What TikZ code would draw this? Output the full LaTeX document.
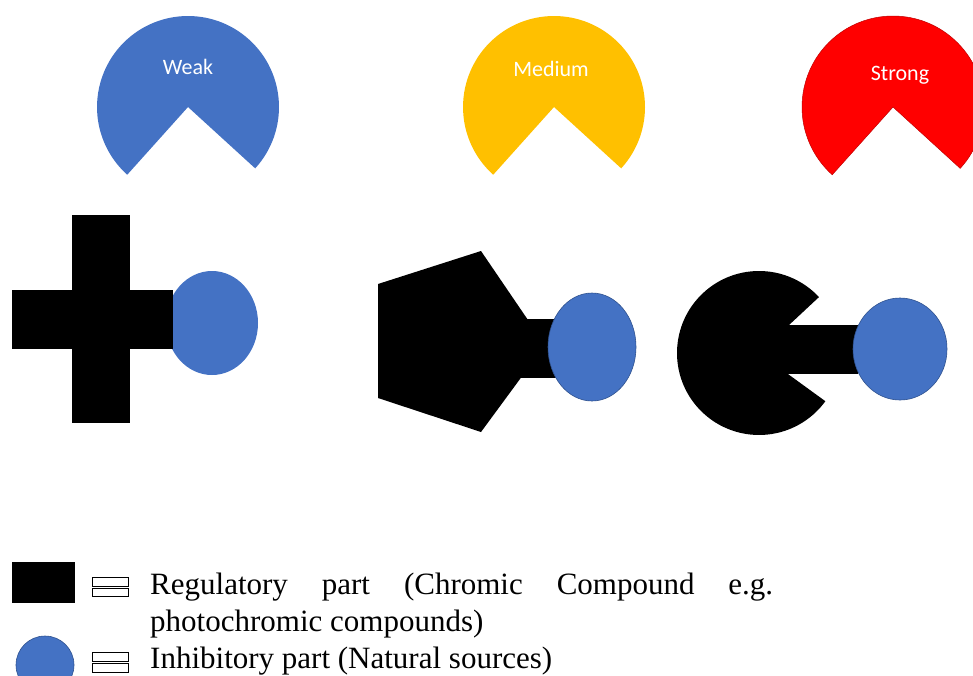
\documentclass[tikz,border=0pt]{standalone}
\usepackage{fontspec}
\setmainfont{Liberation Serif}
\newfontfamily\labelfont{Carlito}
\definecolor{pblue}{HTML}{4472C4}
\definecolor{pblueline}{HTML}{2F528F}
\definecolor{pyellow}{HTML}{FFC000}
\definecolor{pred}{HTML}{FF0000}
\definecolor{predline}{HTML}{C00000}
\begin{document}
\begin{tikzpicture}[x=1pt,y=-1pt,
  inhib/.style={fill=pblue,draw=pblueline,line width=0.6pt},
  regul/.style={fill=black},
  toplabel/.style={text=white,font=\labelfont\fontsize{22}{26}\selectfont,inner sep=0pt},
  legendtext/.style={font=\fontsize{31}{37}\selectfont,anchor=base west,inner sep=0pt},
  eqbar/.style={draw=black,fill=white,line width=0.8pt}]
\useasboundingbox (0,0) rectangle (973,675);
% top pies
\fill[pblue] (188,107) -- ++(42.4:91) arc[start angle=42.4,end angle=-228.1,radius=91] -- cycle;
\node[toplabel] (weak) at (188,67) {Weak};
\fill[pyellow] (554,107) -- ++(42.4:91) arc[start angle=42.4,end angle=-228.1,radius=91] -- cycle;
\node[toplabel] (medium) at (551,69) {Medium};
\filldraw[fill=pred,draw=predline,line width=0.5pt] (893,107) -- ++(42.4:91) arc[start angle=42.4,end angle=-228.1,radius=91] -- cycle;
\node[toplabel] (strong) at (900,75) {Strong};
% cross + inhibitor
\fill[pblue] (212,323) ellipse[x radius=46,y radius=52];
\fill[regul] (72,215) rectangle (130,423);
\fill[regul] (12,290) rectangle (173,349);
% pentagon + inhibitor
\fill[regul] (378,284) -- (481,251) -- (545,345) -- (481,432) -- (378,398) -- cycle;
\fill[regul] (515,319) rectangle (556,378);
\filldraw[inhib] (592,347) ellipse[x radius=44,y radius=54];
% pacman + inhibitor
\fill[regul] (759,353) -- ++(-43:82) arc[start angle=-43,end angle=-324,radius=82] -- cycle;
\fill[regul] (755,325) rectangle (858,374);
\filldraw[inhib] (900,349) ellipse[x radius=47,y radius=51];
% legend
\fill[regul] (12,562) rectangle (75,603);
\draw[eqbar] (92,577) rectangle (128,586);
\draw[eqbar] (92,588) rectangle (128,596);
\node[legendtext] (reg1) at (150,594) {\makebox[623pt][s]{Regulatory part (Chromic Compound e.g.}};
\node[legendtext] (reg2) at (150,631) {photochromic compounds)};
\filldraw[inhib] (45,665) circle[radius=29];
\draw[eqbar] (92,652) rectangle (128,661);
\draw[eqbar] (92,663) rectangle (128,672);
\node[legendtext] (inh) at (150,668) {Inhibitory part (Natural sources)};
\end{tikzpicture}
\end{document}
